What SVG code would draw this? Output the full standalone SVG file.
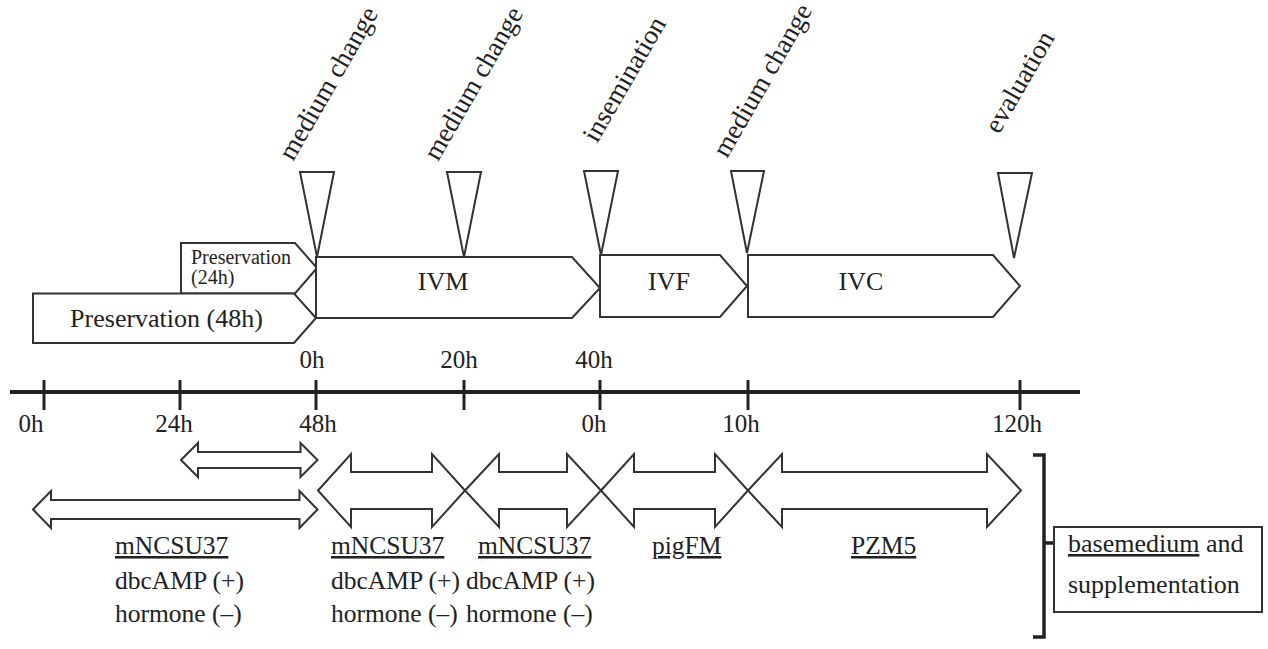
<svg xmlns="http://www.w3.org/2000/svg" width="1268" height="649" viewBox="0 0 1268 649">
<style>
  .box{fill:#fff;stroke:#333;stroke-width:2;stroke-linejoin:miter}
  .tri{fill:#fff;stroke:#333;stroke-width:2}
  .arr{fill:#fff;stroke:#333;stroke-width:2}
  .t{font-family:"Liberation Serif","Times New Roman",serif;font-size:26px;fill:#222}
  .s{font-size:20px}
  .tk{font-size:25px}
  .rl{font-size:27px}
  .m{font-size:25.5px}
  .u{text-decoration:underline}
  .axis{stroke:#222;stroke-width:4}
  .tick{stroke:#222;stroke-width:3}
  .br{fill:none;stroke:#222;stroke-width:3.5}
</style>
<rect width="1268" height="649" fill="#fff"/>

<g id="timeline">
  <line class="axis" x1="10" y1="392" x2="1080" y2="392"/>
  <line class="tick" x1="44" y1="380" x2="44" y2="410"/>
  <line class="tick" x1="180" y1="380" x2="180" y2="410"/>
  <line class="tick" x1="316" y1="380" x2="316" y2="410"/>
  <line class="tick" x1="464" y1="380" x2="464" y2="410"/>
  <line class="tick" x1="600" y1="380" x2="600" y2="410"/>
  <line class="tick" x1="748" y1="380" x2="748" y2="410"/>
  <line class="tick" x1="1020" y1="380" x2="1020" y2="410"/>
  <g class="t tk" text-anchor="middle">
    <text x="31" y="432">0h</text>
    <text x="174" y="432">24h</text>
    <text x="318" y="432">48h</text>
    <text x="594" y="432">0h</text>
    <text x="741" y="432">10h</text>
    <text x="1017" y="432">120h</text>
    <text x="312" y="368">0h</text>
    <text x="459" y="368">20h</text>
    <text x="594" y="368">40h</text>
  </g>
</g>

<g id="pres24">
  <polygon class="box" points="181,243 295,243 317,268 295,293.5 181,293.5"/>
  <text class="t s" x="191" y="264">Preservation</text>
  <text class="t s" x="191" y="284">(24h)</text>
</g>
<g id="pres48">
  <polygon class="box" points="33,293.5 294,293.5 316,318 294,343 33,343"/>
  <text class="t" x="166.5" y="327" text-anchor="middle">Preservation (48h)</text>
</g>
<g id="ivm">
  <polygon class="box" points="316,257 572,257 600,288 572,318 316,318"/>
  <text class="t" x="443" y="290" text-anchor="middle">IVM</text>
</g>
<g id="ivf">
  <polygon class="box" points="600,255 720,255 747,286 720,317 600,317"/>
  <text class="t" x="669" y="290" text-anchor="middle">IVF</text>
</g>
<g id="ivc">
  <polygon class="box" points="748,255 993,255 1020,286 993,317 748,317"/>
  <text class="t" x="861" y="290" text-anchor="middle">IVC</text>
</g>

<g id="events">
  <polygon class="tri" points="300,172 334,172 317,257"/>
  <polygon class="tri" points="447,172 481,172 464,257"/>
  <polygon class="tri" points="584,171 618,171 601,255"/>
  <polygon class="tri" points="731,171 764,171 747,253"/>
  <polygon class="tri" points="998,173 1032,173 1014,258"/>
  <g class="t rl">
    <text x="293" y="162" transform="rotate(-60 293 162)">medium change</text>
    <text x="438" y="162" transform="rotate(-60 438 162)">medium change</text>
    <text x="597" y="144" transform="rotate(-60 597 144)">insemination</text>
    <text x="727" y="159" transform="rotate(-60 727 159)">medium change</text>
    <text x="999" y="135" transform="rotate(-60 999 135)">evaluation</text>
  </g>
</g>

<g id="connectors">
  <polygon class="arr" points="181,460 198,443 198,452 300.5,452 300.5,443 317.5,460 300.5,477 300.5,468 198,468 198,477"/>
  <polygon class="arr" points="33,509.5 51,491 51,500 299.5,500 299.5,491 317.5,509.5 299.5,528 299.5,519 51,519 51,528"/>
  <polygon class="arr" points="318,490.5 351,454 351,472 432,472 432,454 465,490.5 432,527 432,509 351,509 351,527"/>
  <polygon class="arr" points="465,490.5 499,454 499,472 567,472 567,454 601,490.5 567,527 567,509 499,509 499,527"/>
  <polygon class="arr" points="601,490.5 634,454 634,472 715,472 715,454 748,490.5 715,527 715,509 634,509 634,527"/>
  <polygon class="arr" points="748,490.5 782,454 782,472 987,472 987,454 1021,490.5 987,527 987,509 782,509 782,527"/>
</g>

<g id="media">
  <g class="t m">
    <text class="u" x="115" y="554">mNCSU37</text>
    <text x="115" y="589">dbcAMP (+)</text>
    <text x="115" y="622">hormone (–)</text>
    <text class="u" x="331" y="554">mNCSU37</text>
    <text x="331" y="589">dbcAMP (+)</text>
    <text x="331" y="622">hormone (–)</text>
    <text class="u" x="478" y="554">mNCSU37</text>
    <text x="466" y="589">dbcAMP (+)</text>
    <text x="466" y="622">hormone (–)</text>
    <text class="u" x="652" y="554">pigFM</text>
    <text class="u" x="851" y="554">PZM5</text>
  </g>
</g>

<g id="legend">
  <path class="br" d="M1033,455 H1044 V637 H1033 M1044,543 H1055"/>
  <rect x="1054" y="527" width="208" height="85" fill="#fff" stroke="#333" stroke-width="2"/>
  <text class="t" x="1068" y="552" font-size="27"><tspan class="u">basemedium</tspan> and</text>
  <text class="t" x="1068" y="593" font-size="27">supplementation</text>
</g>
</svg>
